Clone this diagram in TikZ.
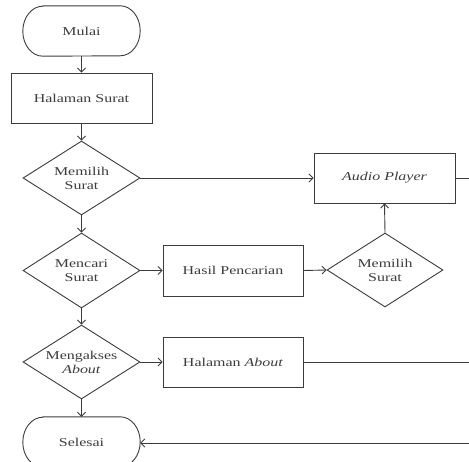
\documentclass[tikz,border=0pt]{standalone}
\usepackage{fontspec}
\usepackage{graphicx}
\setmainfont{Liberation Serif}
\usetikzlibrary{arrows.meta,shapes.geometric}
\definecolor{ink}{HTML}{3C3C3C}
% widened serif lettering used for all labels
\newcommand{\wide}[1]{\scalebox{1.33}[1]{#1}}
\begin{document}
\begin{tikzpicture}[x=1pt,y=-1pt,
  every node/.style={font=\fontsize{12}{14}\selectfont\rmfamily, text=ink},
  line/.style={draw=ink, line width=0.9pt},
  flow/.style={line, -{Straight Barb[length=4pt,width=8pt]}},
  terminal/.style={minimum width=117pt, minimum height=50pt, inner sep=0pt},
  procbox/.style={line, rectangle, minimum width=141pt, minimum height=50pt, inner sep=0pt},
  decision/.style={line, diamond, minimum width=117pt, minimum height=74pt, inner sep=0pt},
  dtext/.style={align=center, text=ink, font=\fontsize{12}{14}\selectfont\rmfamily}
]
\useasboundingbox (0,0) rectangle (469,461);

% stadium outline with elliptical ends around a terminal node
\newcommand{\stadiumoutline}[1]{%
  \draw[line] ([xshift=20pt]#1.north west) -- ([xshift=-20pt]#1.north east)
    arc[start angle=90, end angle=-90, x radius=20pt, y radius=25pt]
    -- ([xshift=20pt]#1.south west)
    arc[start angle=270, end angle=90, x radius=20pt, y radius=25pt] -- cycle;}

% main column
\node[terminal] (start) at (81.5,31) {\wide{Mulai}};
\stadiumoutline{start}
\node[procbox] (hal) at (81.5,98) {\wide{Halaman Surat}};
\node[decision, label={[dtext]center:\wide{Memilih}\\\wide{Surat}}] (pick) at (81.5,178) {};
\node[decision, minimum height=75pt, label={[dtext]center:\wide{Mencari}\\\wide{Surat}}] (search) at (81.5,270.5) {};
\node[decision, label={[dtext]center:\wide{Mengakses}\\\wide{\textit{About}}}] (askabout) at (81.5,362) {};
\node[terminal] (end) at (81.5,442) {\wide{Selesai}};
\stadiumoutline{end}

% right-hand branches
\node[procbox] (audio) at (384.5,178) {\wide{\textit{Audio Player}}};
\node[procbox, minimum width=140pt, minimum height=51pt] (result) at (233,270.5) {\wide{Hasil Pencarian}};
\node[decision, minimum width=116pt, label={[dtext]center:\wide{Memilih}\\\wide{Surat}}] (pick2) at (385,270) {};
\node[procbox, minimum width=140pt] (aboutpage) at (233,362) {\wide{Halaman \textit{About}}};

% loose ends running off to the right
\coordinate (outA) at (469,178);
\coordinate (outB) at (469,362);
\coordinate (outC) at (469,443);

% connectors
\draw[flow] (start.south) -- (hal.north);
\draw[flow] (hal.south) -- (pick.north);
\draw[flow] (pick.east) -- (audio.west);
\draw[flow] (pick.south) -- (search.north);
\draw[flow] (search.east) -- (result.west);
\draw[flow] (result.east) -- (pick2.west);
\draw[flow] (pick2.north) -- (audio.south);
\draw[flow] (search.south) -- (askabout.north);
\draw[flow] (askabout.east) -- (aboutpage.west);
\draw[flow] (askabout.south) -- (end.north);
\draw[line] (audio.east) -- (outA);
\draw[line] (aboutpage.east) -- (outB);
\draw[flow] (outC) -- (end.east |- outC);
\end{tikzpicture}
\end{document}
